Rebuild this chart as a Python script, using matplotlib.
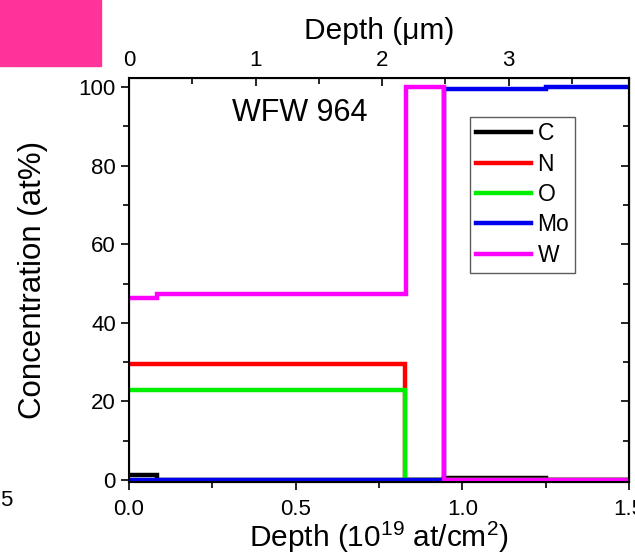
import matplotlib
matplotlib.use("Agg")
import matplotlib.pyplot as plt
from matplotlib.patches import Rectangle
from matplotlib.ticker import MultipleLocator

plt.rcParams['font.family'] = ['Liberation Sans', 'DejaVu Sans']
plt.rcParams['mathtext.fontset'] = 'custom'
plt.rcParams['mathtext.rm'] = 'Liberation Sans'
plt.rcParams['mathtext.it'] = 'Liberation Sans'

# step profiles (depth in 1e19 at/cm2, concentration in at%)
c_x = [0.0, 0.084, 0.084, 0.946, 0.946, 1.25, 1.25, 1.5]
c_y = [1.2, 1.2, 0.0, 0.0, 0.6, 0.6, 0.0, 0.0]
n_x = [0.0, 0.829, 0.829, 1.5]
n_y = [29.5, 29.5, 0.0, 0.0]
o_x = [0.0, 0.829, 0.829, 1.5]
o_y = [23.0, 23.0, 0.0, 0.0]
mo_x = [0.0, 0.946, 0.946, 1.25, 1.25, 1.5]
mo_y = [0.0, 0.0, 99.6, 99.6, 100.1, 100.1]
w_x = [0.0, 0.084, 0.084, 0.831, 0.831, 0.946, 0.946, 1.5]
w_y = [46.2, 46.2, 47.4, 47.4, 100.0, 100.0, 0.0, 0.0]

series = [
    ("C", c_x, c_y, "black"),
    ("N", n_x, n_y, "#ff0000"),
    ("O", o_x, o_y, "#00ee00"),
    ("Mo", mo_x, mo_y, "#0000ee"),
    ("W", w_x, w_y, "#ff00ff"),
]

fig = plt.figure(figsize=(6.35, 5.53), dpi=100)
ax = fig.add_axes([0.2031, 0.1284, 0.7875, 0.7306])

for name, x, y, col in series:
    ax.plot(x, y, color=col, lw=3.2, label=name, solid_joinstyle='miter')

ax.set_xlim(0, 1.5)
ax.set_ylim(-0.5, 102.3)
ax.xaxis.set_major_locator(MultipleLocator(0.5))
ax.xaxis.set_minor_locator(MultipleLocator(0.25))
ax.yaxis.set_major_locator(MultipleLocator(20))
ax.yaxis.set_minor_locator(MultipleLocator(10))
ax.xaxis.set_major_formatter(plt.FormatStrFormatter('%.1f'))
ax.tick_params(axis='both', which='major', labelsize=16, direction='out', length=6, width=1.2)
ax.tick_params(axis='both', which='minor', direction='out', length=4, width=1.2)
ax.tick_params(axis='x', which='major', pad=6)
for s in ax.spines.values():
    s.set_linewidth(1.5)

# right side: inward ticks, no labels
right = ax.secondary_yaxis('right')
right.yaxis.set_major_locator(MultipleLocator(20))
right.yaxis.set_minor_locator(MultipleLocator(10))
right.tick_params(which='major', direction='in', length=6, width=1.2, labelright=False)
right.tick_params(which='minor', direction='in', length=4, width=1.2)
right.spines['right'].set_linewidth(1.5)

ax.set_xlabel("Depth (10$^{19}$ at/cm$^{2}$)", fontsize=21.5, labelpad=0)
ax.set_ylabel("Concentration (at%)", fontsize=22.5, labelpad=22)

ax.text(0.512, 93.5, "WFW 964", fontsize=22, ha='center', va='center')

leg = ax.legend(loc='upper right', bbox_to_anchor=(0.892, 0.904), borderaxespad=0,
                fontsize=16.5, handlelength=2.4, handletextpad=0.3, labelspacing=0.32,
                borderpad=0.25, fancybox=False, frameon=True)
leg.get_frame().set_edgecolor('#333333')
leg.get_frame().set_linewidth(1.0)

# top axis in micrometres
top = ax.twiny()
top.set_xlim(0, 3.95)
top.xaxis.set_major_locator(MultipleLocator(1))
top.xaxis.set_minor_locator(MultipleLocator(0.5))
top.tick_params(axis='x', which='major', labelsize=16, direction='in', length=6, width=1.2, pad=5)
top.tick_params(axis='x', which='minor', direction='in', length=4, width=1.2)
top.set_xlabel("Depth (\u03bcm)", fontsize=21.5, labelpad=8)

# fragments from neighbouring panel
fig.patches.append(Rectangle((0, 1 - 66 / 553), 101 / 635, 66 / 553,
                             transform=fig.transFigure, color='#ff3399', zorder=0))
fig.text(0.0, 1 - 500 / 553, "5", fontsize=16, ha='left', va='center')

fig.savefig("out.png", dpi=100)
